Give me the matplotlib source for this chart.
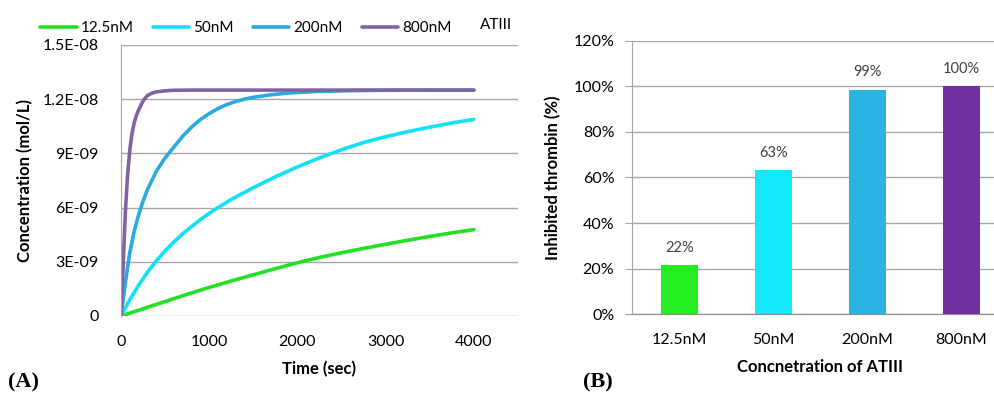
import numpy as np
import matplotlib
matplotlib.use('Agg')
from matplotlib import pyplot as plt
from matplotlib import ticker as mtick

plt.rcParams['font.family'] = ['Lato', 'DejaVu Sans']

# (A) concentration vs time (units of 1E-9 mol/L)
t_800 = [0, 10, 25, 37, 50, 75, 100, 125, 150, 175, 200, 250, 300, 350, 400, 500, 600, 800, 4000]
c_800 = [0, 1.15, 2.9, 4.3, 5.8, 7.8, 9.2, 10.1, 10.7, 11.1, 11.4, 11.9, 12.2, 12.33, 12.4, 12.46, 12.49, 12.5, 12.5]
t_200 = [0, 25, 50, 75, 100, 150, 200, 250, 300, 400, 500, 600, 700, 800, 900, 1000, 1100, 1200,
         1300, 1400, 1500, 1700, 1900, 2200, 2600, 3000, 3500, 4000]
c_200 = [0, 0.95, 1.85, 2.7, 3.5, 4.7, 5.6, 6.35, 7.0, 8.0, 8.75, 9.35, 9.95, 10.45, 10.87, 11.2, 11.48, 11.7,
         11.87, 12.0, 12.1, 12.24, 12.34, 12.42, 12.47, 12.49, 12.5, 12.5]
t_50 = [0, 100, 200, 300, 400, 500, 600, 700, 800, 900, 1000, 1100, 1250, 1500, 1750, 2000,
        2250, 2500, 2750, 3000, 3250, 3500, 3750, 4000]
c_50 = [0, 0.9, 1.7, 2.42, 3.05, 3.6, 4.1, 4.55, 4.95, 5.33, 5.68, 6.0, 6.45, 7.1, 7.7, 8.25,
        8.75, 9.2, 9.6, 9.92, 10.2, 10.45, 10.68, 10.88]
t_12 = [0, 250, 500, 750, 1000, 1250, 1500, 1750, 2000, 2250, 2500, 2750, 3000, 3250, 3500, 3750, 4000]
c_12 = [0, 0.4, 0.8, 1.2, 1.58, 1.94, 2.28, 2.62, 2.95, 3.24, 3.5, 3.74, 3.97, 4.19, 4.4, 4.6, 4.78]

# (B) inhibited thrombin
conc = ['12.5nM', '50nM', '200nM', '800nM']
inhib = [0.216, 0.632, 0.986, 1.0]

line_cols = ['#22E022', '#11E1F7', '#2AAAE0', '#8064A2']
bar_cols = ['#22EE22', '#11E8F8', '#2BB3E3', '#7030A0']
grid_c = '#A6A6A6'

fig = plt.figure(figsize=(9.95, 3.94), dpi=100)

# ---- panel A
ax = fig.add_axes([0.1216, 0.198, 0.399, 0.688])
series = [(t_12, c_12), (t_50, c_50), (t_200, c_200), (t_800, c_800)]
for (t, c), col, lab in zip(series, line_cols, conc):
    ax.plot(t, np.array(c) * 1e-9, color=col, lw=2.6, label=lab,
            solid_capstyle='round', solid_joinstyle='round')
ax.set_xlim(0, 4500)
ax.set_ylim(0, 1.5e-8)
ax.set_xticks([0, 1000, 2000, 3000, 4000])
ax.set_yticks(np.arange(0, 1.51e-8, 3e-9))
ax.set_yticklabels(['0', '3E-09', '6E-09', '9E-09', '1.2E-08', '1.5E-08'])
ax.yaxis.grid(True, color=grid_c, lw=1)
ax.set_axisbelow(True)
for s in ['top', 'right', 'bottom']:
    ax.spines[s].set_visible(False)
ax.spines['left'].set_color(grid_c)
ax.tick_params(axis='y', length=0, labelsize=11.5, pad=16)
ax.tick_params(axis='x', length=0, labelsize=11.5, pad=14)
ax.set_xlabel('Time (sec)', fontsize=12, fontweight='bold', labelpad=8)
ax.set_ylabel('Concentration (mol/L)', fontsize=12, fontweight='bold', labelpad=7)
ax.legend(loc='lower left', bbox_to_anchor=(42 / 397 - 121 / 397 - 0.005, 1.035), ncol=4,
          frameon=False, fontsize=11, handlelength=2.4, handletextpad=0.25,
          columnspacing=1.25, borderaxespad=0.0, borderpad=0)
fig.text(480 / 995, 1 - 25 / 394, 'ATIII', fontsize=11, va='center')
fig.text(8 / 995, 1 - 382 / 394, '(A)', family='Liberation Serif', fontweight='bold',
         fontsize=16, va='center')

# ---- panel B
bx = fig.add_axes([0.6355, 0.203, 0.378, 0.693])
x = np.arange(len(conc))
bx.bar(x, inhib, width=0.4, color=bar_cols, zorder=2)
for xi, v in zip(x, inhib):
    bx.text(xi, v + 0.045, '%0.0f%%' % (v * 100), ha='center', va='bottom',
            fontsize=10.5, color='#404040')
bx.set_xlim(-0.5, 3.5)
bx.set_ylim(0, 1.2)
bx.set_xticks(x)
bx.set_xticklabels(conc)
bx.set_yticks(np.arange(0, 1.21, 0.2))
bx.yaxis.set_major_formatter(mtick.PercentFormatter(1.0, decimals=0))
bx.yaxis.grid(True, color=grid_c, lw=1)
bx.set_axisbelow(True)
for s in ['top', 'right']:
    bx.spines[s].set_visible(False)
bx.spines['left'].set_color(grid_c)
bx.spines['bottom'].set_color('#8C8C8C')
bx.tick_params(axis='y', length=5, color=grid_c, labelsize=11.5, pad=8)
bx.tick_params(axis='x', length=0, labelsize=11.5, pad=14)
bx.set_xlabel('Concnetration of ATIII', fontsize=12, fontweight='bold', labelpad=8)
bx.set_ylabel('Inhibited thrombin (%)', fontsize=12, fontweight='bold', labelpad=9)
fig.text(583 / 995, 1 - 382 / 394, '(B)', family='Liberation Serif', fontweight='bold',
         fontsize=16, va='center')

fig.savefig('out.png', dpi=100)
